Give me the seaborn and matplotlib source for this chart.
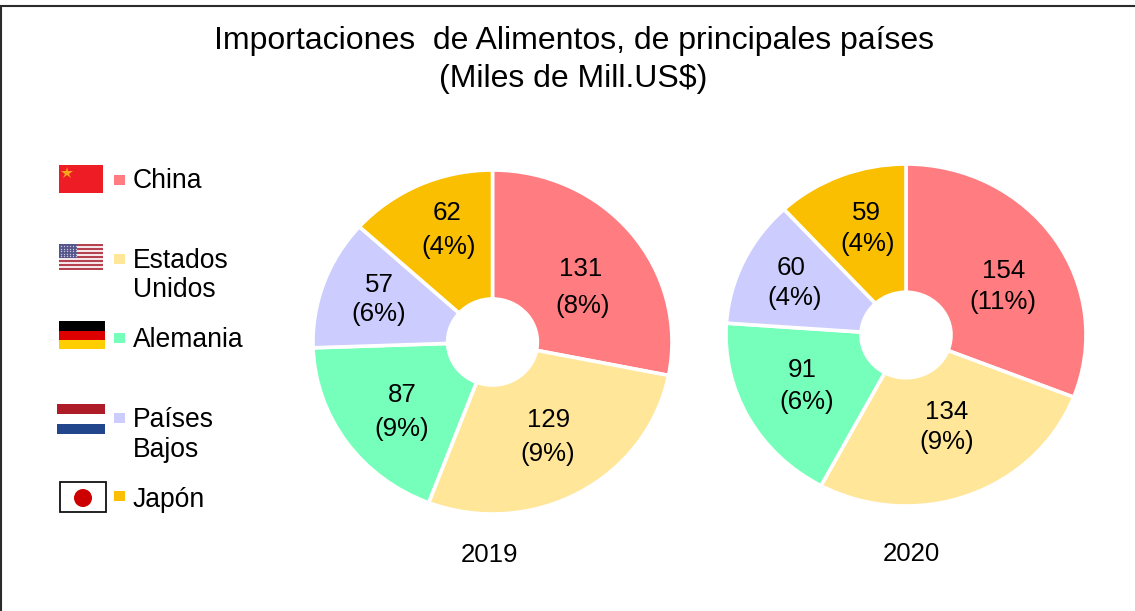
import matplotlib
matplotlib.use("Agg")
import matplotlib.pyplot as plt
from matplotlib.patches import Rectangle, Circle
from matplotlib.lines import Line2D
from matplotlib.transforms import Affine2D
import seaborn as sns

countries = ["China", "Estados\nUnidos", "Alemania", "Países\nBajos", "Japón"]
values_2019 = [131, 129, 87, 57, 62]
values_2020 = [154, 134, 91, 60, 59]
pct_2019 = ["8%", "9%", "9%", "6%", "4%"]
pct_2020 = ["11%", "9%", "6%", "4%", "4%"]
colors = sns.color_palette(["#FF7C80", "#FFE699", "#75FFBA", "#CCCCFF", "#F9BF00"])

sns.set_theme(style="white")
plt.rcParams["font.family"] = ["Liberation Sans", "DejaVu Sans"]

W, H = 1135, 611
fig = plt.figure(figsize=(W / 100, H / 100), dpi=100, facecolor="white")
px = Affine2D().scale(1, -1).translate(0, H)


def text(x, y, s, size=18.6, ha="center", va="center", **kw):
    fig.text(x, y, s, transform=px, fontsize=size, ha=ha, va=va, color="black", **kw)


def rect(x0, y0, x1, y1, color, **kw):
    fig.add_artist(Rectangle((x0, y0), x1 - x0, y1 - y0, transform=px,
                             facecolor=color, edgecolor="none", **kw))


def pie(left, top, right, bottom, values, pcts, value_xy, pct_xy):
    ax = fig.add_axes([left / W, 1 - bottom / H, (right - left) / W, (bottom - top) / H])
    ax.pie(values, colors=colors, startangle=90, counterclock=False, radius=1,
           wedgeprops=dict(width=0.75, edgecolor="white", linewidth=2.6))
    ax.set_aspect("auto")
    ax.set_xlim(-1, 1)
    ax.set_ylim(-1, 1)
    ax.axis("off")
    for v, p, (x, y), (x2, y2) in zip(values, pcts, value_xy, pct_xy):
        text(x, y, str(v))
        text(x2, y2, f"({p})")


pie(313, 170, 672, 514, values_2019, pct_2019,
    [(581, 269), (549, 420), (402, 395), (379, 285), (447, 213)],
    [(583, 306), (548, 454), (402, 429), (379, 314), (449, 247)])
pie(726, 164, 1086, 506, values_2020, pct_2020,
    [(1004, 271), (947, 412), (802, 370), (791, 268), (866, 213)],
    [(1003, 302), (947, 442), (807, 402), (795, 298), (868, 244)])

# Outer frame
fig.add_artist(Line2D((0.8, 0.8), (6, H), transform=px, color="#2b2b2b", lw=1.5))
fig.add_artist(Line2D((0, W), (6, 6), transform=px, color="#2b2b2b", lw=1.5))

# Title
text(574, 41, "Importaciones  de Alimentos, de principales países", size=23)
text(573, 79, "(Miles de Mill.US$)", size=23)

# Year labels
text(490, 555, "2019")
text(911, 554, "2020")

# Legend
swatch_y = [180, 259, 338, 417.5, 496]
label_y = [[181], [261, 290], [340], [420, 450], [500]]
for c, name, sy, lys in zip(colors, countries, swatch_y, label_y):
    rect(114, sy - 5, 125, sy + 5, c)
    for ly, part in zip(lys, name.split("\n")):
        text(133, ly, part, size=19.1, ha="left")

# China flag
rect(59, 165, 103, 193, "#EE1C25")
fig.add_artist(Line2D([67], [173], transform=px, marker="*", ms=9,
                      color="#F7A81B", mew=0))

# United States flag
for i in range(13):
    y0 = 244 + i * 2
    rect(59, y0, 103, y0 + 2, "#B5404F" if i % 2 == 0 else "#F4E6E8")
rect(59, 244, 77, 258, "#55558A")
for r in range(5):
    for k in range(6):
        fig.add_artist(Line2D([60.5 + k * 3], [246 + r * 2.6], transform=px, marker="o",
                              ms=1, color="#C8C8E0", mew=0))

# Germany flag
rect(59, 321, 105, 330.5, "#000000")
rect(59, 330.5, 105, 340, "#DD0000")
rect(59, 340, 105, 349, "#FFCE00")

# Netherlands flag
rect(57, 404, 105, 414, "#AE1C28")
rect(57, 424, 105, 434, "#21468B")

# Japan flag
fig.add_artist(Rectangle((60, 482), 46, 30, transform=px, facecolor="white",
                         edgecolor="#111111", linewidth=1.3))
fig.add_artist(Circle((83, 498), 9, transform=px, facecolor="#CC0000", edgecolor="none"))

fig.savefig("out.png", dpi=100)
